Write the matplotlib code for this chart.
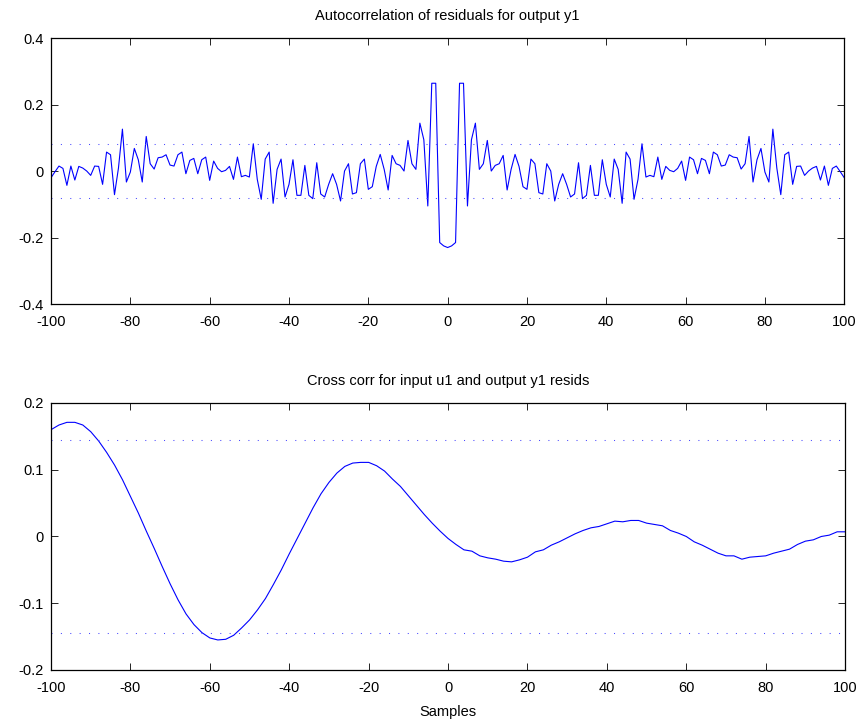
import matplotlib
matplotlib.use("Agg")
import matplotlib.pyplot as plt
import numpy as np

plt.rcParams['font.family'] = ['Liberation Sans', 'DejaVu Sans']
plt.rcParams['font.size'] = 10.5
plt.rcParams['axes.unicode_minus'] = False

# autocorrelation of residuals, lags 0..100 (symmetric around 0)
ac_half = [-0.23, -0.225, -0.215, 0.264, 0.264, -0.105, 0.094, 0.144, 0.005, 0.022,
           0.092, 0.0, 0.017, 0.022, 0.047, -0.057, 0.005, 0.05, 0.014, -0.047,
           -0.055, 0.036, 0.022, -0.065, -0.069, 0.022, 0.0, -0.09, -0.04, -0.008,
           -0.04, -0.078, -0.069, 0.025, -0.083, -0.073, 0.017, -0.073, -0.073, 0.034,
           -0.04, -0.078, 0.036, 0.005, -0.097, 0.057, 0.036, -0.085, -0.025, 0.082,
           -0.018, -0.013, -0.017, 0.042, -0.025, 0.014, 0.002, -0.002, 0.008, 0.03,
           -0.028, 0.042, 0.034, -0.008, 0.038, 0.032, -0.008, 0.057, 0.049, 0.015,
           0.018, 0.049, 0.042, 0.04, 0.006, 0.022, 0.104, -0.033, 0.034, 0.068,
           -0.003, -0.033, 0.126, 0.009, -0.071, 0.049, 0.057, -0.04, 0.014, 0.015,
           -0.013, 0.0, 0.009, 0.014, -0.027, 0.015, -0.043, 0.008, 0.015, -0.002,
           -0.02]
ac_conf = 0.08

# cross correlation u1 -> y1 residuals
cc_lags = list(range(-100, 101, 2))
cc_vals = [0.160, 0.167, 0.171, 0.171, 0.167, 0.157, 0.143, 0.126, 0.107, 0.085,
           0.060, 0.035, 0.008, -0.018, -0.045, -0.071, -0.095, -0.116, -0.132, -0.144,
           -0.152, -0.155, -0.154, -0.148, -0.137, -0.125, -0.110, -0.093, -0.072, -0.050,
           -0.026, -0.003, 0.020, 0.043, 0.064, 0.081, 0.095, 0.105, 0.110, 0.111,
           0.111, 0.106, 0.098, 0.086, 0.075, 0.061, 0.047, 0.033, 0.020, 0.008,
           -0.003, -0.012, -0.020, -0.022, -0.029, -0.032, -0.034, -0.037, -0.038, -0.035,
           -0.031, -0.023, -0.020, -0.013, -0.008, -0.002, 0.004, 0.009, 0.013, 0.015,
           0.019, 0.023, 0.022, 0.024, 0.024, 0.020, 0.018, 0.016, 0.009, 0.005,
           0.0, -0.008, -0.013, -0.019, -0.025, -0.029, -0.029, -0.034, -0.031, -0.030,
           -0.029, -0.025, -0.022, -0.019, -0.012, -0.007, -0.005, 0.0, 0.002, 0.007,
           0.007]
cc_conf = 0.145

ac_lags = np.arange(-100, 101)
ac_vals = np.concatenate([ac_half[:0:-1], ac_half])

fig = plt.figure(figsize=(8.65, 7.24), dpi=100)
ax1 = fig.add_axes([0.059, 0.580, 0.917, 0.3675])
ax2 = fig.add_axes([0.059, 0.0746, 0.918, 0.3688])

dots = (0, (1, 8))
dot_col = '#4a4aff'

ax1.plot(ac_lags, ac_vals, color='#0000ff', lw=0.8)
ax1.plot([-100, 100], [ac_conf, ac_conf], color=dot_col, lw=0.75, ls=dots)
ax1.plot([-100, 100], [-ac_conf, -ac_conf], color=dot_col, lw=0.75, ls=dots)
ax1.set_ylim(-0.4, 0.4)
ax1.set_yticks([-0.4, -0.2, 0, 0.2, 0.4])
ax1.set_title('Autocorrelation of residuals for output y1', fontsize=10.5, pad=13)

ax2.plot(cc_lags, cc_vals, color='#0000ff', lw=0.8)
ax2.plot([-100, 100], [cc_conf, cc_conf], color=dot_col, lw=0.75, ls=dots)
ax2.plot([-100, 100], [-cc_conf, -cc_conf], color=dot_col, lw=0.75, ls=dots)
ax2.set_ylim(-0.2, 0.2)
ax2.set_yticks([-0.2, -0.1, 0, 0.1, 0.2])
ax2.set_title('Cross corr for input u1 and output y1 resids', fontsize=10.5, pad=13)
ax2.set_xlabel('Samples', fontsize=10.5, labelpad=7)

for ax in (ax1, ax2):
    ax.set_xlim(-100, 100)
    ax.set_xticks(range(-100, 101, 20))
    ax.yaxis.set_major_formatter(matplotlib.ticker.FormatStrFormatter('%g'))
    ax.tick_params(direction='in', length=5, width=0.6, top=True, right=True,
                   labelsize=10.5, pad=5)
    ax.tick_params(axis='x', pad=8)
    for s in ax.spines.values():
        s.set_linewidth(0.9)

fig.savefig('out.png', dpi=100)
